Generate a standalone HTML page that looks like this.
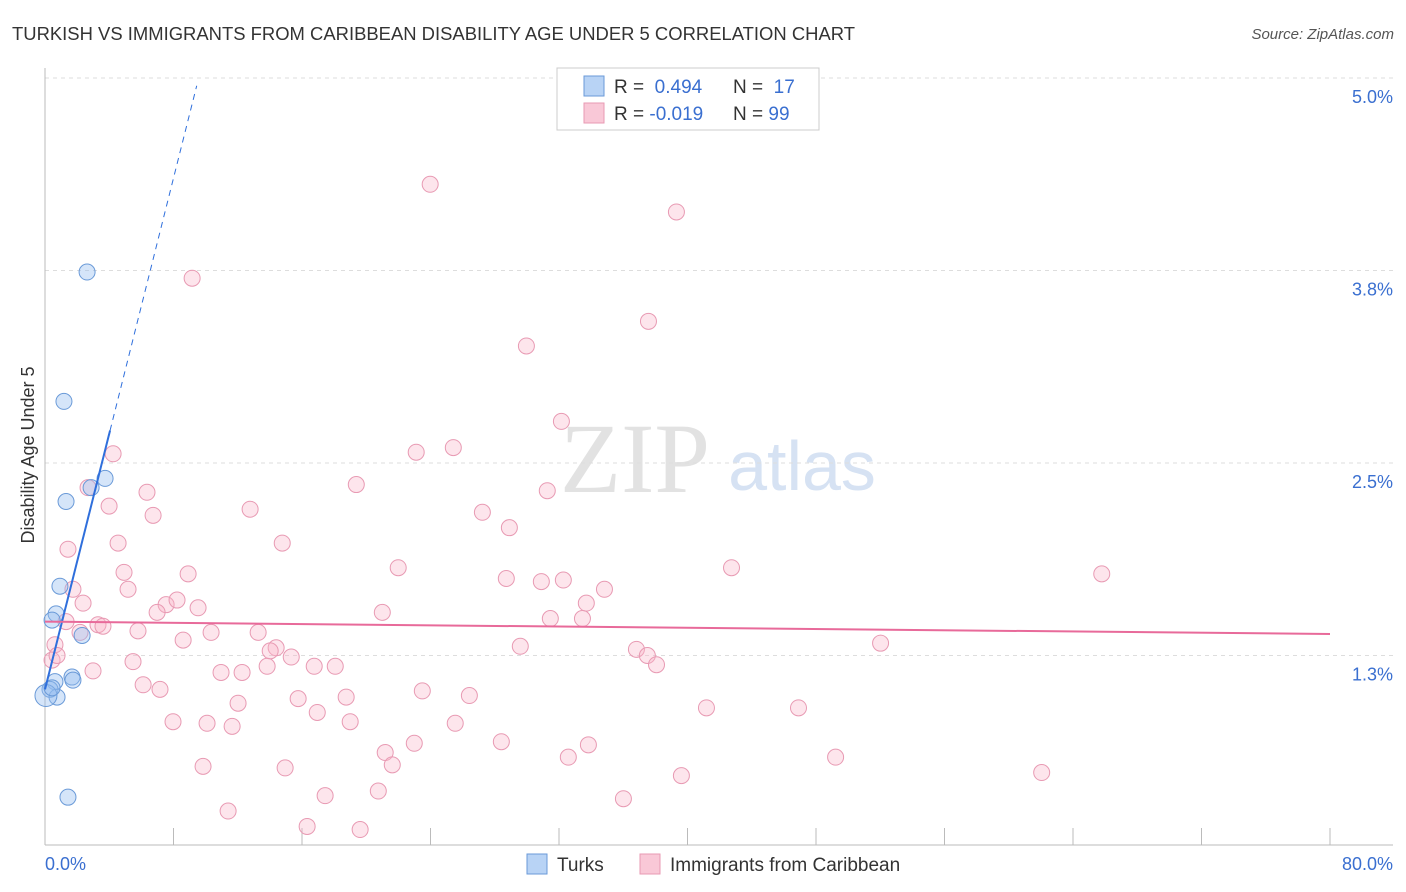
<!DOCTYPE html>
<html><head><meta charset="utf-8">
<style>
body{margin:0;background:#fff;font-family:"Liberation Sans",sans-serif;}
#wrap{position:relative;width:1406px;height:892px;overflow:hidden;}
</style></head>
<body>
<div id="wrap">
<svg id="svg" width="1406" height="892" xmlns="http://www.w3.org/2000/svg">
<text x="12" y="40" font-size="18" fill="#333" textLength="843" lengthAdjust="spacingAndGlyphs">TURKISH VS IMMIGRANTS FROM CARIBBEAN DISABILITY AGE UNDER 5 CORRELATION CHART</text>
<text x="1394" y="39" font-size="15" fill="#555" font-style="italic" text-anchor="end">Source: ZipAtlas.com</text>
<text x="635" y="492" font-size="100" fill="#e2e2e2" font-family="Liberation Serif,serif" text-anchor="middle">ZIP</text>
<text x="802" y="490" font-size="70" fill="#d6e2f3" text-anchor="middle">atlas</text>
<text transform="translate(34,455) rotate(-90)" font-size="18" fill="#333" text-anchor="middle">Disability Age Under 5</text>
<g id="grid"></g><g id="ticks"></g><g id="marks"></g>
<g>
<rect x="557" y="68" width="262" height="62" fill="#fff" stroke="#ccc"/>
<rect x="584" y="76" width="20" height="20" fill="#b8d3f5" stroke="#6a9ad8"/>
<rect x="584" y="103" width="20" height="20" fill="#f9c8d7" stroke="#e89ab3"/>
<text x="614" y="93" font-size="19" fill="#333">R = <tspan fill="#3a6fd0">&#160;0.494</tspan><tspan x="733">N = </tspan><tspan fill="#3a6fd0">&#160;17</tspan></text>
<text x="614" y="120" font-size="19" fill="#333">R = <tspan fill="#3a6fd0">-0.019</tspan><tspan x="733">N = </tspan><tspan fill="#3a6fd0">99</tspan></text>
</g>
<g>
<rect x="527" y="854" width="20" height="20" fill="#b8d3f5" stroke="#6a9ad8"/>
<text x="557" y="871" font-size="19" fill="#333">Turks</text>
<rect x="640" y="854" width="20" height="20" fill="#f9c8d7" stroke="#e89ab3"/>
<text x="670" y="871" font-size="19" fill="#333">Immigrants from Caribbean</text>
</g>
</svg>
</div>
<script>
const yTicks=[1.25,2.5,3.75,5.0];
const yTickLabels=["1.3%","2.5%","3.8%","5.0%"];
const xTickLabels=["0.0%","80.0%"];
const turksX=[2.62,1.18,3.74,2.87,1.31,0.93,0.69,0.44,2.31,1.68,1.74,0.62,0.31,0.75,0.06,0.44,1.43];
const turksY=[3.74,2.90,2.40,2.34,2.25,1.70,1.52,1.48,1.38,1.11,1.09,1.08,1.03,0.98,0.99,1.04,0.33];
const caribX=[23.98,39.31,9.16,37.57,29.97,32.15,4.24,23.11,25.42,2.68,6.35,19.38,31.27,3.99,12.77,6.73,27.23,28.91,4.55,1.43,14.77,21.99,4.92,8.91,28.72,30.90,32.27,42.74,65.79,1.74,5.17,34.83,2.37,7.54,8.22,9.53,6.98,21.0,33.70,31.46,33.46,1.31,3.30,3.61,5.79,2.18,10.34,13.27,8.60,14.39,14.02,29.59,36.82,37.50,52.02,0.62,0.44,0.75,5.48,15.33,38.07,16.76,18.07,2.99,10.96,12.27,13.83,6.11,7.16,23.49,15.76,26.42,18.75,12.02,16.95,41.18,46.91,7.97,10.09,11.65,19.0,25.54,22.99,28.41,33.83,21.18,21.62,32.58,49.22,9.84,14.95,39.62,62.05,17.44,20.75,36.01,11.40,16.32,19.62];
const caribY=[4.31,4.13,3.70,3.42,3.26,2.77,2.56,2.57,2.60,2.34,2.31,2.36,2.32,2.22,2.20,2.16,2.18,2.08,1.98,1.94,1.98,1.82,1.79,1.78,1.75,1.73,1.74,1.82,1.78,1.68,1.68,1.68,1.59,1.58,1.61,1.56,1.53,1.53,1.59,1.49,1.49,1.47,1.45,1.44,1.41,1.40,1.40,1.40,1.35,1.30,1.28,1.31,1.29,1.25,1.33,1.32,1.22,1.25,1.21,1.24,1.19,1.18,1.18,1.15,1.14,1.14,1.18,1.06,1.03,1.02,0.97,0.99,0.98,0.94,0.88,0.91,0.91,0.82,0.81,0.79,0.82,0.81,0.68,0.69,0.67,0.62,0.54,0.59,0.59,0.53,0.52,0.47,0.49,0.34,0.37,0.32,0.24,0.14,0.12];
const turksTrend=[1.03,0.415];   // intercept, slope
const caribTrend=[1.47,-0.001];

const X0=45,X1=1330,Y0=848,Ypx=154;
const sx=v=>X0+v*(X1-X0)/80;
const sy=v=>Y0-v*Ypx;
const NS="http://www.w3.org/2000/svg";
function mk(tag,attrs,parent){const e=document.createElementNS(NS,tag);for(const k in attrs)e.setAttribute(k,attrs[k]);parent.appendChild(e);return e;}
const grid=document.getElementById('grid'),ticks=document.getElementById('ticks'),marks=document.getElementById('marks');
yTicks.forEach((t,i)=>{
  const l=mk('line',{x1:X0,x2:1393,y1:sy(t),y2:sy(t),stroke:'#ddd','stroke-dasharray':'4,4'},grid);
  
  
  const tx=mk('text',{x:1393,y:sy(t)+25,'font-size':18,fill:'#3a6fd0','text-anchor':'end'},ticks);
  tx.textContent=yTickLabels[i];
  
  
});
const ax=mk('line',{x1:X0,x2:1393,y1:845,y2:845,stroke:'#bbb'},ticks);


const ay=mk('line',{x1:X0,x2:X0,y1:68,y2:845,stroke:'#bbb'},ticks);


for(let i=0;i<=10;i++){
  const t=mk('line',{x1:sx(i*8),x2:sx(i*8),y1:828,y2:845,stroke:'#bbb'},ticks);
  
  
}
const xl0=mk('text',{x:45,y:870,'font-size':18,fill:'#3a6fd0'},ticks);xl0.textContent=xTickLabels[0];


const xl1=mk('text',{x:1393,y:870,'font-size':18,fill:'#3a6fd0','text-anchor':'end'},ticks);xl1.textContent=xTickLabels[1];



caribX.forEach((x,i)=>{
  const c=mk('circle',{cx:sx(x),cy:sy(caribY[i]),r:8,fill:'rgba(248,180,200,0.35)',stroke:'#e89ab3','stroke-width':1},marks);
  
  
});
turksX.forEach((x,i)=>{
  const c=mk('circle',{cx:sx(x),cy:sy(turksY[i]),r:(i==14?11:8),fill:'rgba(150,190,240,0.4)',stroke:'#6a9ad8','stroke-width':1},marks);
  
  
});
const tEndSolid=4.05,tEndDash=(4.95-turksTrend[0])/turksTrend[1];
const ts=mk('line',{x1:sx(0),y1:sy(turksTrend[0]),x2:sx(tEndSolid),y2:sy(turksTrend[0]+turksTrend[1]*tEndSolid),stroke:'#2f6fdc','stroke-width':2},marks);


const td=mk('line',{x1:sx(tEndSolid),y1:sy(turksTrend[0]+turksTrend[1]*tEndSolid),x2:sx(tEndDash),y2:sy(4.95),stroke:'#2f6fdc','stroke-width':1,'stroke-dasharray':'6,5'},marks);


const cl=mk('line',{x1:sx(0),y1:sy(caribTrend[0]),x2:sx(80),y2:sy(caribTrend[0]+caribTrend[1]*80),stroke:'#e86a9a','stroke-width':2},marks);


</script>
</body></html>
